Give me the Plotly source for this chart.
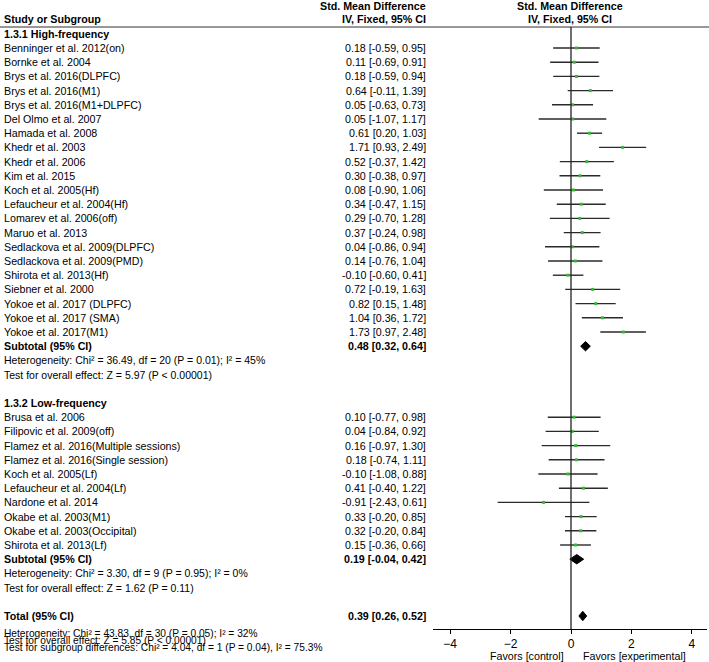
import plotly.graph_objects as go

# 1.3.1 High-frequency
hf_studies = [
    "Benninger et al. 2012(on)", "Bornke et al. 2004", "Brys et al. 2016(DLPFC)",
    "Brys et al. 2016(M1)", "Brys et al. 2016(M1+DLPFC)", "Del Olmo et al. 2007",
    "Hamada et al. 2008", "Khedr et al. 2003", "Khedr et al. 2006", "Kim et al. 2015",
    "Koch et al. 2005(Hf)", "Lefaucheur et al. 2004(Hf)", "Lomarev et al. 2006(off)",
    "Maruo et al. 2013", "Sedlackova et al. 2009(DLPFC)", "Sedlackova et al. 2009(PMD)",
    "Shirota et al. 2013(Hf)", "Siebner et al. 2000", "Yokoe et al. 2017 (DLPFC)",
    "Yokoe et al. 2017 (SMA)", "Yokoe et al. 2017(M1)",
]
hf_smd = [0.18, 0.11, 0.18, 0.64, 0.05, 0.05, 0.61, 1.71, 0.52, 0.30, 0.08,
          0.34, 0.29, 0.37, 0.04, 0.14, -0.10, 0.72, 0.82, 1.04, 1.73]
hf_lo = [-0.59, -0.69, -0.59, -0.11, -0.63, -1.07, 0.20, 0.93, -0.37, -0.38, -0.90,
         -0.47, -0.70, -0.24, -0.86, -0.76, -0.60, -0.19, 0.15, 0.36, 0.97]
hf_hi = [0.95, 0.91, 0.94, 1.39, 0.73, 1.17, 1.03, 2.49, 1.42, 0.97, 1.06,
         1.15, 1.28, 0.98, 0.94, 1.04, 0.41, 1.63, 1.48, 1.72, 2.48]
hf_subtotal = [0.48, 0.32, 0.64]
hf_stats = ["Heterogeneity: Chi² = 36.49, df = 20 (P = 0.01); I² = 45%",
            "Test for overall effect: Z = 5.97 (P < 0.00001)"]

# 1.3.2 Low-frequency
lf_studies = [
    "Brusa et al. 2006", "Filipovic et al. 2009(off)", "Flamez et al. 2016(Multiple sessions)",
    "Flamez et al. 2016(Single session)", "Koch et al. 2005(Lf)", "Lefaucheur et al. 2004(Lf)",
    "Nardone et al. 2014", "Okabe et al. 2003(M1)", "Okabe et al. 2003(Occipital)",
    "Shirota et al. 2013(Lf)",
]
lf_smd = [0.10, 0.04, 0.16, 0.18, -0.10, 0.41, -0.91, 0.33, 0.32, 0.15]
lf_lo = [-0.77, -0.84, -0.97, -0.74, -1.08, -0.40, -2.43, -0.20, -0.20, -0.36]
lf_hi = [0.98, 0.92, 1.30, 1.11, 0.88, 1.22, 0.61, 0.85, 0.84, 0.66]
lf_subtotal = [0.19, -0.04, 0.42]
lf_stats = ["Heterogeneity: Chi² = 3.30, df = 9 (P = 0.95); I² = 0%",
            "Test for overall effect: Z = 1.62 (P = 0.11)"]

total = [0.39, 0.26, 0.52]
total_stats = ["Heterogeneity: Chi² = 43.83, df = 30 (P = 0.05); I² = 32%",
               "Test for overall effect: Z = 5.85 (P < 0.00001)",
               "Test for subgroup differences: Chi² = 4.04, df = 1 (P = 0.04), I² = 75.3%"]

x_ticks = [-4, -2, 0, 2, 4]

W, H = 709, 662
FONT = "Liberation Sans, Arial, sans-serif"
FS = 10.7
ROW0_PX, ROW_PX = 48, 14.2     # pixel y of first study row, row height
AXIS_PX = 629                  # pixel y of x axis line


def px_x(p):
    return p / W


def px_y(p):
    return (H - p) / H


EST_X = px_x(428)              # right edge of estimate column
LEFT_X = px_x(2)


def fmt(m, lo, hi):
    return f"{m:.2f} [{lo:.2f}, {hi:.2f}]"


# row positions
hf_rows = list(range(len(hf_studies)))
hf_sub_row = len(hf_studies)
lf_title_row = hf_sub_row + 4
lf_rows = [lf_title_row + 1 + i for i in range(len(lf_studies))]
lf_sub_row = lf_rows[-1] + 1
total_row = lf_sub_row + 4

fig = go.Figure()

# CI whiskers
ci_x, ci_y = [], []
for rows, lo, hi in [(hf_rows, hf_lo, hf_hi), (lf_rows, lf_lo, lf_hi)]:
    for r, a, b in zip(rows, lo, hi):
        ci_x += [a, b, None]
        ci_y += [r, r, None]
fig.add_trace(go.Scatter(x=ci_x, y=ci_y, mode="lines",
                         line=dict(color="#2a2a2a", width=1.4), hoverinfo="skip"))

# point estimates
fig.add_trace(go.Scatter(x=hf_smd + lf_smd, y=hf_rows + lf_rows, mode="markers",
                         marker=dict(symbol="square", size=3, color="#33bb33")))

# diamonds
dh = 0.33
for row, (m, lo, hi) in [(hf_sub_row, hf_subtotal), (lf_sub_row, lf_subtotal), (total_row, total)]:
    fig.add_trace(go.Scatter(x=[lo, m, hi, m, lo], y=[row, row - dh, row, row + dh, row],
                             mode="lines", fill="toself", fillcolor="black",
                             line=dict(color="black", width=1), hoverinfo="skip"))

ann = []


def txt(text, x, y, bold=False, anchor="left", yref="y", size=FS):
    if bold:
        text = f"<b>{text}</b>"
    ann.append(dict(text=text, x=x, y=y, xref="paper", yref=yref, xanchor=anchor,
                    yanchor="middle", showarrow=False,
                    font=dict(family=FONT, size=size, color="black")))


# header
txt("Study or Subgroup", LEFT_X, px_y(19), True, yref="paper")
txt("Std. Mean Difference", EST_X, px_y(6), True, "right", yref="paper")
txt("IV, Fixed, 95% CI", EST_X, px_y(19), True, "right", yref="paper")
txt("Std. Mean Difference", px_x(570), px_y(6), True, "center", yref="paper")
txt("IV, Fixed, 95% CI", px_x(570), px_y(19), True, "center", yref="paper")

txt("1.3.1 High-frequency", LEFT_X, -1, True)
for r, s, m, lo, hi in zip(hf_rows, hf_studies, hf_smd, hf_lo, hf_hi):
    txt(s, LEFT_X, r)
    txt(fmt(m, lo, hi), EST_X, r, anchor="right")
txt("Subtotal (95% CI)", LEFT_X, hf_sub_row, True)
txt(fmt(*hf_subtotal), EST_X, hf_sub_row, True, "right")
for i, s in enumerate(hf_stats):
    txt(s, LEFT_X, hf_sub_row + 1 + i, size=10.5)

txt("1.3.2 Low-frequency", LEFT_X, lf_title_row, True)
for r, s, m, lo, hi in zip(lf_rows, lf_studies, lf_smd, lf_lo, lf_hi):
    txt(s, LEFT_X, r)
    txt(fmt(m, lo, hi), EST_X, r, anchor="right")
txt("Subtotal (95% CI)", LEFT_X, lf_sub_row, True)
txt(fmt(*lf_subtotal), EST_X, lf_sub_row, True, "right")
for i, s in enumerate(lf_stats):
    txt(s, LEFT_X, lf_sub_row + 1 + i, size=10.5)

txt("Total (95% CI)", LEFT_X, total_row, True)
txt(fmt(*total), EST_X, total_row, True, "right")
for i, s in enumerate(total_stats):
    txt(s, LEFT_X, px_y(633 + 7.4 * i), yref="paper", size=10.2)

txt("Favors [control]", px_x(566), px_y(656), anchor="right", yref="paper")
txt("Favors [experimental]", px_x(581), px_y(656), anchor="left", yref="paper")

x0_px, px_per_unit = 571, 30.2
x_min, x_max = (433 - x0_px) / px_per_unit, (707 - x0_px) / px_per_unit

shapes = [
    dict(type="line", xref="paper", yref="paper", x0=0, x1=1, y0=px_y(27), y1=px_y(27),
         line=dict(color="#333333", width=1.2)),
    dict(type="line", xref="x", yref="paper", x0=0, x1=0, y0=px_y(27), y1=px_y(AXIS_PX),
         line=dict(color="#222222", width=1.3)),
]

fig.update_layout(
    width=W, height=H, margin=dict(l=0, r=0, t=0, b=0),
    paper_bgcolor="white", plot_bgcolor="white", showlegend=False,
    annotations=ann, shapes=shapes,
    xaxis=dict(domain=[px_x(433), px_x(707)], range=[x_min, x_max], tickvals=x_ticks,
               ticks="outside", ticklen=4, tickcolor="black", showline=True,
               linecolor="black", linewidth=1, showgrid=False, zeroline=False,
               tickfont=dict(family=FONT, size=12, color="black")),
    yaxis=dict(domain=[px_y(AXIS_PX), 1],
               range=[(AXIS_PX - ROW0_PX) / ROW_PX, -ROW0_PX / ROW_PX],
               visible=False),
)

# drop the browser's default body margin so the figure fills the window
fig.write_html("out.html", config={"displayModeBar": False},
               post_script="document.body.style.margin = '0';")
